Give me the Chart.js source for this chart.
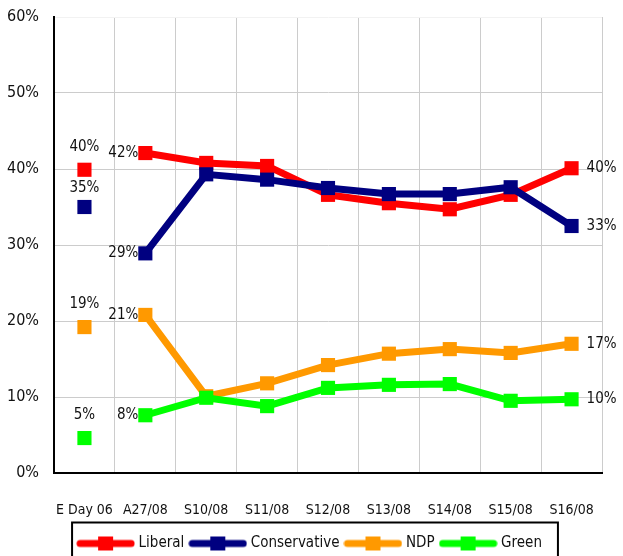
<!DOCTYPE html>
<html>
<head>
<meta charset="utf-8">
<script src="https://cdn.jsdelivr.net/npm/chart.js@4/dist/chart.umd.min.js"></script>
<style>
html,body{margin:0;padding:0;background:#fff;}
#wrap{width:623px;height:556px;}
</style>
</head>
<body>
<div id="wrap"><canvas id="c" width="623" height="556"></canvas></div>
<script>
const categories = ['E Day 06','A27/08','S10/08','S11/08','S12/08','S13/08','S14/08','S15/08','S16/08'];
const liberal      = [39.9, 42.1, 40.8, 40.4, 36.6, 35.5, 34.7, 36.6, 40.1];
const conservative = [35.0, 28.9, 39.3, 38.6, 37.5, 36.7, 36.7, 37.6, 32.5];
const ndp          = [19.2, 20.8, 10.1, 11.8, 14.2, 15.7, 16.3, 15.8, 17.0];
const green        = [4.6, 7.6, 9.9, 8.8, 11.2, 11.6, 11.7, 9.5, 9.7];
const seriesNames  = ['Liberal','Conservative','NDP','Green'];
const seriesColors = ['#ff0000','#000080','#ff9900','#00ff00'];
const yTicks = [0,10,20,30,40,50,60];

const FONT = "'DejaVu Sans Condensed','Liberation Sans Narrow',sans-serif";

function makeIcon(color){
  const c = document.createElement('canvas');
  c.width = 59; c.height = 16;
  const g = c.getContext('2d');
  g.strokeStyle = color; g.lineWidth = 7; g.lineCap = 'round';
  g.beginPath(); g.moveTo(4, 8); g.lineTo(55, 8); g.stroke();
  g.fillStyle = color;
  g.fillRect(22, 1, 15, 14);
  return c;
}

const allSeries = [liberal, conservative, ndp, green];
const datasets = allSeries.map((vals, i) => ({
  label: seriesNames[i],
  data: vals,
  borderColor: seriesColors[i],
  backgroundColor: seriesColors[i],
  borderWidth: 7,
  pointStyle: 'rect',
  pointRadius: 10,
  pointHoverRadius: 10,
  pointBorderWidth: 0,
  pointBackgroundColor: seriesColors[i],
  tension: 0,
  order: 4 - i,
  segment: {
    borderColor: ctx => ctx.p0DataIndex === 0 ? 'rgba(0,0,0,0)' : seriesColors[i]
  },
  icon: makeIcon(seriesColors[i])
}));

const labelPlugin = {
  id: 'valLabels',
  afterDatasetsDraw(chart){
    const ctx = chart.ctx;
    ctx.save();
    ctx.font = '15px ' + FONT;
    ctx.fillStyle = '#111';
    ctx.textBaseline = 'middle';
    chart.data.datasets.forEach((ds, di) => {
      const meta = chart.getDatasetMeta(di);
      [0, 1, ds.data.length - 1].forEach(idx => {
        const pt = meta.data[idx];
        const txt = Math.round(ds.data[idx]) + '%';
        if (idx === 0){
          ctx.textAlign = 'center';
          ctx.fillText(txt, pt.x, pt.y - (di === 1 ? 19 : 23));
        } else if (idx === 1){
          ctx.textAlign = 'right';
          ctx.fillText(txt, pt.x - 7, pt.y);
        } else {
          ctx.textAlign = 'left';
          ctx.fillText(txt, pt.x + 15, pt.y);
        }
      });
    });
    ctx.restore();
  }
};

const legendBox = {
  id: 'legendBox',
  afterLayout(chart){
    const lg = chart.legend;
    if (lg){ lg.left += 10; lg.right += 10; }
  },
  afterDraw(chart){
    const lg = chart.legend;
    if (!lg || !lg.legendHitBoxes || !lg.legendHitBoxes.length) return;
    const hb = lg.legendHitBoxes;
    const left = Math.min(...hb.map(h => h.left)) - 8;
    const right = Math.max(...hb.map(h => h.left + h.width)) + 16;
    const cy = hb[0].top + hb[0].height / 2;
    const ctx = chart.ctx;
    ctx.save();
    ctx.strokeStyle = '#000';
    ctx.lineWidth = 2;
    ctx.strokeRect(left, cy - 21, right - left, 60);
    ctx.restore();
  }
};

new Chart(document.getElementById('c'), {
  type: 'line',
  data: { labels: categories, datasets: datasets },
  options: {
    responsive: false,
    animation: false,
    events: [],
    layout: { padding: { top: 17, right: 21, left: 0, bottom: -5 } },
    plugins: {
      tooltip: { enabled: false },
      legend: {
        position: 'bottom',
        labels: {
          usePointStyle: true,
          pointStyleWidth: 51,
          padding: 8,
          color: '#111',
          font: { size: 15, family: FONT },
          generateLabels(chart){
            return chart.data.datasets.map((ds, i) => ({
              text: ds.label,
              pointStyle: ds.icon,
              fillStyle: ds.borderColor,
              strokeStyle: ds.borderColor,
              lineWidth: 0,
              hidden: false,
              datasetIndex: i,
              fontColor: '#111'
            }));
          }
        }
      }
    },
    scales: {
      x: {
        offset: true,
        grid: {
          offset: true,
          drawTicks: false,
          color: ctx => (ctx.index === categories.length) ? 'rgba(0,0,0,0)' : '#cccccc',
          lineWidth: 1
        },
        border: { color: '#000', width: 2 },
        ticks: {
          padding: 29,
          color: '#111',
          font: { size: 14, family: FONT },
          maxRotation: 0,
          autoSkip: false
        },
        afterFit(scale){ scale.height = 55; scale.paddingLeft = 0; scale.paddingRight = 0; }
      },
      y: {
        min: 0, max: 60,
        afterBuildTicks(scale){ scale.ticks = yTicks.map(v => ({ value: v })); },
        grid: {
          drawTicks: false,
          color: ctx => (ctx.tick && ctx.tick.value === 60) ? '#f2f2f2' : '#cccccc',
          lineWidth: 1
        },
        border: { color: '#000', width: 2 },
        ticks: {
          padding: 15,
          color: '#111',
          font: { size: 16, family: FONT },
          callback: v => v + '%'
        },
        afterFit(scale){ scale.width = 54; scale.paddingTop = 0; scale.paddingBottom = 0; }
      }
    }
  },
  plugins: [labelPlugin, legendBox]
});
</script>
</body>
</html>
